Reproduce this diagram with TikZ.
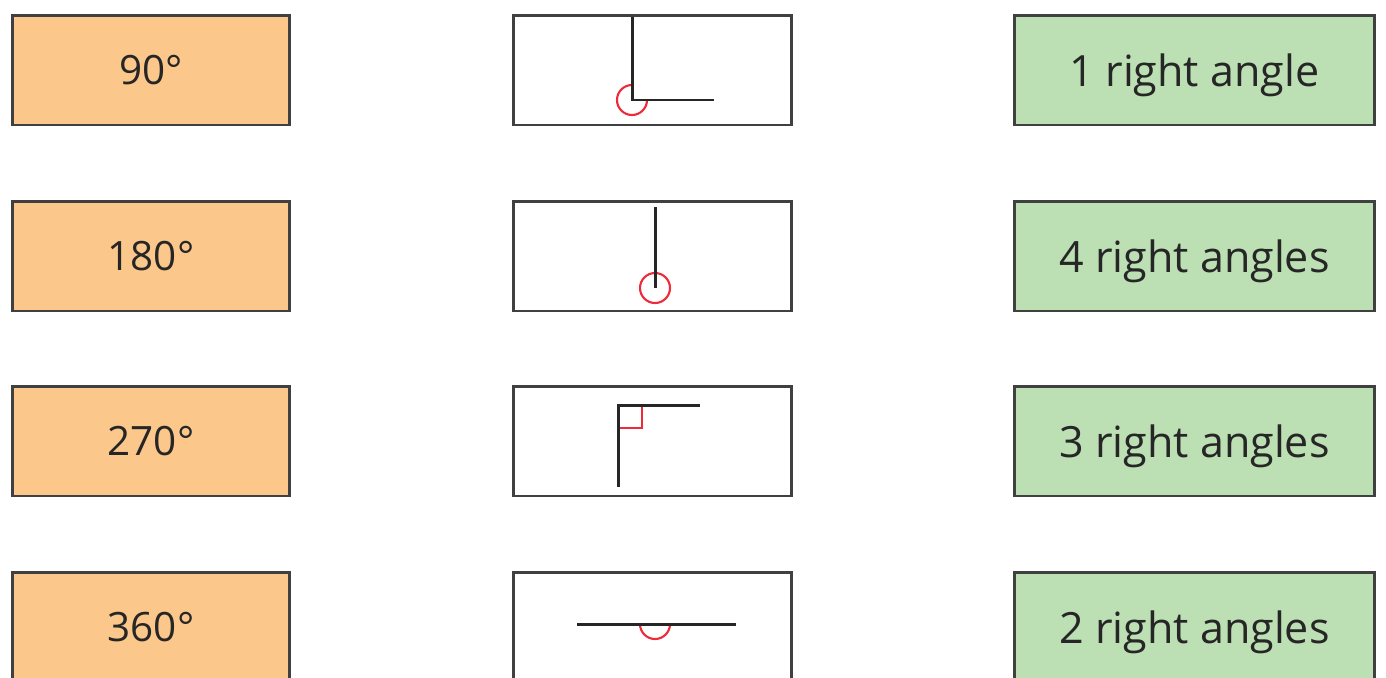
\documentclass[tikz,border=0pt]{standalone}
\usepackage{fontspec}
\setmainfont{Open Sans}
\usetikzlibrary{positioning}
\definecolor{peach}{HTML}{FBC78A}
\definecolor{mint}{HTML}{BCDFB3}
\definecolor{edge}{HTML}{404040}
\definecolor{ink}{HTML}{262626}
\definecolor{turnred}{HTML}{EE2B3A}
\tikzset{
  degbox/.style={rectangle,draw=edge,line width=1.7pt,fill=peach,minimum width=5.55cm,minimum height=2.2cm,font=\fontsize{23}{28}\selectfont,text=ink,text depth=0pt},
  picbox/.style={rectangle,draw=edge,line width=1.7pt,fill=white,minimum width=5.55cm,minimum height=2.2cm},
  countbox/.style={rectangle,draw=edge,line width=1.7pt,fill=mint,minimum width=7.2cm,minimum height=2.2cm,font=\fontsize{24.5}{28}\selectfont,text=ink,text depth=0pt},
  arm/.style={draw=ink,line width=1.7pt},
  turn/.style={draw=turnred,line width=1.2pt}
}
\begin{document}
\begin{tikzpicture}[x=0.02cm,y=-0.02cm]
  \useasboundingbox (0,0) rectangle (1386,677);
  % left column: angles in degrees
  \node[degbox] (d1) at (151,70) {90°};
  \node[degbox] (d2) at (151,256) {180°};
  \node[degbox] (d3) at (151,441) {270°};
  \node[degbox] (d4) at (151,627) {360°};
  % middle column: turns
  \node[picbox] (p1) at (652.5,70) {};
  \node[picbox] (p2) at (652.5,256) {};
  \node[picbox] (p3) at (652.5,441) {};
  \node[picbox] (p4) at (652.5,627) {};
  % right column: right angles
  \node[countbox] (r1) at (1194.5,70) {1 right angle};
  \node[countbox] (r2) at (1194.5,256) {4 right angles};
  \node[countbox] (r3) at (1194.5,441) {3 right angles};
  \node[countbox] (r4) at (1194.5,627) {2 right angles};
  % 270 degree turn
  \draw[turn] (632,85) arc[start angle=270,end angle=0,radius=15];
  \draw[arm] (632,17) -- (632,100) -- (714,100);
  % full turn
  \draw[turn] (655,288) circle (15);
  \draw[arm] (655,207) -- (655,288);
  % right angle
  \draw[turn] (618,428) -- (642,428) -- (642,405);
  \draw[arm] (618,487) -- (618,405) -- (700,405);
  % half turn
  \draw[turn] (640,624) arc[start angle=180,end angle=0,radius=15];
  \draw[arm] (577,624) -- (736,624);
\end{tikzpicture}
\end{document}
